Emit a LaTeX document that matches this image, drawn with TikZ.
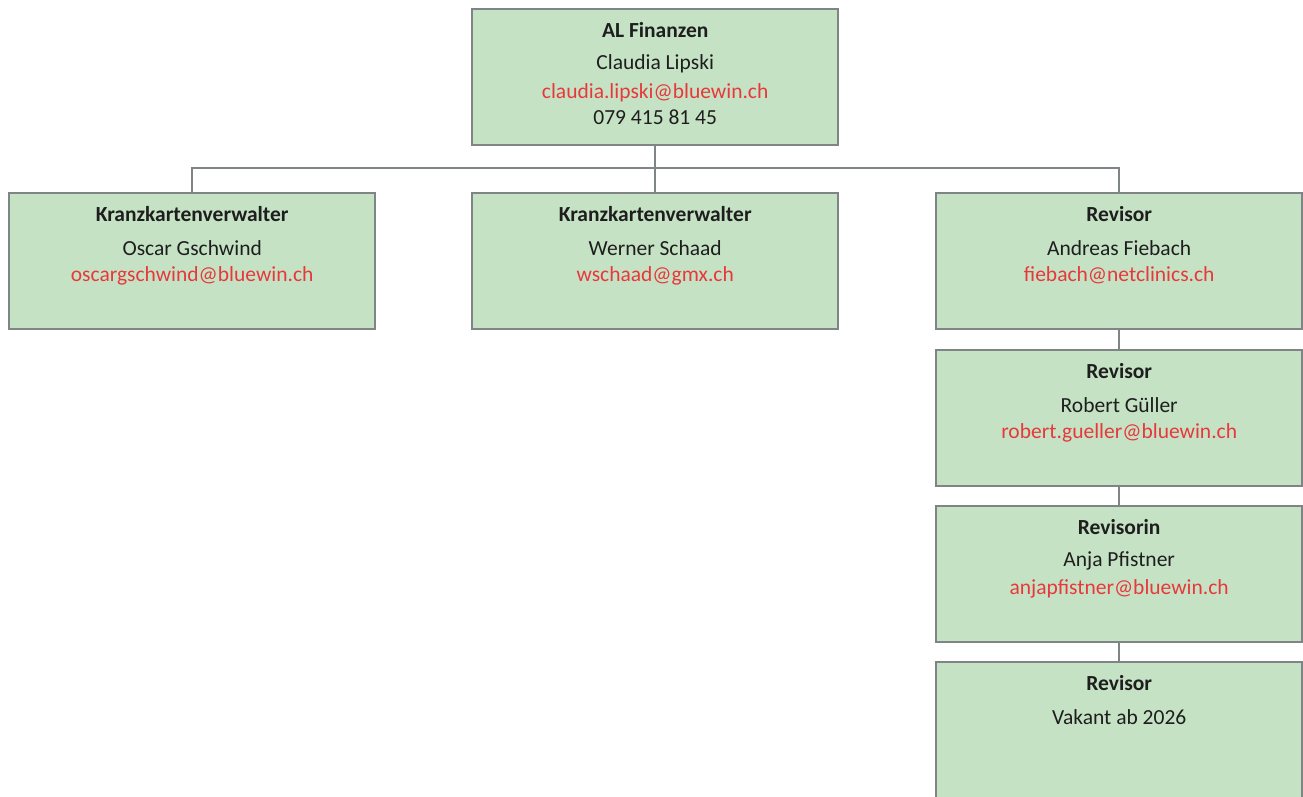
\documentclass[tikz,border=0pt]{standalone}
\usepackage{fontspec}
\setmainfont{Carlito}
\definecolor{boxfill}{HTML}{C5E3C4}
\definecolor{boxline}{HTML}{7F8586}
\definecolor{mailred}{HTML}{E8383C}
\definecolor{txt}{HTML}{1E1E1E}
\begin{document}
\begin{tikzpicture}[x=1pt,y=-1pt,
  box/.style={draw=boxline,fill=boxfill,line width=2.4pt,minimum width=366pt,minimum height=136pt,inner sep=0pt,anchor=north west},
  ttl/.style={font=\fontsize{21.5}{24}\selectfont\bfseries,text=txt,inner sep=0pt},
  nm/.style={font=\fontsize{21.5}{24}\selectfont,text=txt,inner sep=0pt},
  ml/.style={font=\fontsize{21.5}{24}\selectfont,text=mailred,inner sep=0pt},
  conn/.style={draw=boxline,line width=2pt}]
\useasboundingbox (0,0) rectangle (1303,796);
% boxes
\node[box] (top) at (471,8) {};
\node[box] (k1) at (8,192) {};
\node[box] (k2) at (471,192) {};
\node[box] (r1) at (935,192) {};
\node[box] (r2) at (935,349) {};
\node[box] (r3) at (935,505) {};
\node[box] (r4) at (935,661) {};
% connectors
\coordinate (bus) at (654,168);
\draw[conn] (top.south) -- (top.south |- bus);
\draw[conn] (k1.north) -- (k1.north |- bus) -- (r1.north |- bus) -- (r1.north);
\draw[conn] (k2.north) -- (k2.north |- bus);
\draw[conn] (r1.south) -- (r2.north);
\draw[conn] (r2.south) -- (r3.north);
\draw[conn] (r3.south) -- (r4.north);
% texts top
\node[ttl] (topt) at ([yshift=-22pt]top.north) {AL Finanzen};
\node[nm] (topn) at ([yshift=-56pt]top.north) {Claudia Lipski};
\node[ml] (tope) at ([yshift=-84.5pt]top.north) {claudia.lipski@bluewin.ch};
\node[nm] (topp) at ([yshift=-109pt]top.north) {079 415 81 45};
% k1
\node[ttl] (k1t) at ([yshift=-22pt]k1.north) {Kranzkartenverwalter};
\node[nm] (k1n) at ([yshift=-56pt]k1.north) {Oscar Gschwind};
\node[ml] (k1e) at ([yshift=-83.5pt]k1.north) {oscargschwind@bluewin.ch};
% k2
\node[ttl] (k2t) at ([yshift=-22pt]k2.north) {Kranzkartenverwalter};
\node[nm] (k2n) at ([yshift=-56pt]k2.north) {Werner Schaad};
\node[ml] (k2e) at ([yshift=-83.5pt]k2.north) {wschaad@gmx.ch};
% r1
\node[ttl] (r1t) at ([yshift=-22pt]r1.north) {Revisor};
\node[nm] (r1n) at ([yshift=-56pt]r1.north) {Andreas Fiebach};
\node[ml] (r1e) at ([yshift=-83.5pt]r1.north) {fiebach@netclinics.ch};
% r2
\node[ttl] (r2t) at ([yshift=-22pt]r2.north) {Revisor};
\node[nm] (r2n) at ([yshift=-56pt]r2.north) {Robert Güller};
\node[ml] (r2e) at ([yshift=-83.5pt]r2.north) {robert.gueller@bluewin.ch};
% r3
\node[ttl] (r3t) at ([yshift=-22pt]r3.north) {Revisorin};
\node[nm] (r3n) at ([yshift=-56pt]r3.north) {Anja Pfistner};
\node[ml] (r3e) at ([yshift=-83.5pt]r3.north) {anjapfistner@bluewin.ch};
% r4
\node[ttl] (r4t) at ([yshift=-22pt]r4.north) {Revisor};
\node[nm] (r4n) at ([yshift=-56pt]r4.north) {Vakant ab 2026};
\end{tikzpicture}
\end{document}
